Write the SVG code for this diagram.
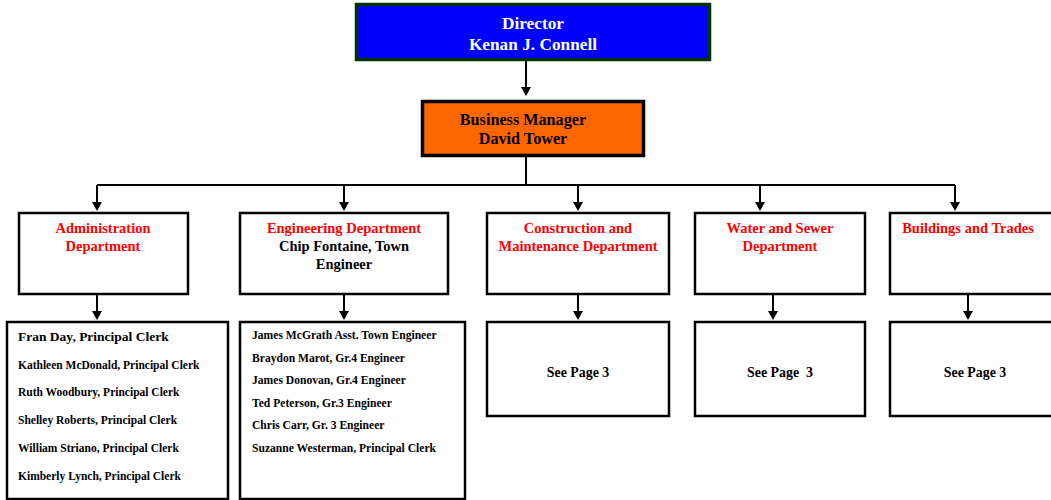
<svg xmlns="http://www.w3.org/2000/svg" width="1051" height="500" viewBox="0 0 1051 500">
<style>
text{font-family:"Liberation Serif","Times New Roman",serif;font-weight:bold;}
.box{fill:#fff;stroke:#000;stroke-width:2.5;}
.c{text-anchor:middle;}
.red{fill:#ff0000;font-size:14.5px;}
.blk{fill:#000;font-size:14.5px;}
.st{fill:#000;font-size:11.5px;}
.st2{fill:#000;font-size:11.6px;}
.sp{fill:#000;font-size:13.9px;}
.ln{fill:none;stroke:#000;stroke-width:2;}
</style>
<g id="connectors">
<path class="ln" d="M526,61 V95"/>
<path d="M521,87 L531,87 L526,96 Z"/>
<path class="ln" d="M526,157 V185 M97,185 H955 M97,185 V205 M344,185 V205 M578,185 V205 M760,185 V205 M955,185 V205"/>
<path d="M92,202 L102,202 L97,211 Z M339,202 L349,202 L344,211 Z M573,202 L583,202 L578,211 Z M755,202 L765,202 L760,211 Z M950,202 L960,202 L955,211 Z"/>
<path class="ln" d="M97,294 V313 M344,294 V313 M578,294 V313 M773,294 V313 M968,294 V313"/>
<path d="M92,311 L102,311 L97,320 Z M339,311 L349,311 L344,320 Z M573,311 L583,311 L578,320 Z M768,311 L778,311 L773,320 Z M963,311 L973,311 L968,320 Z"/>
</g>
<g id="director">
<rect x="356.5" y="4.5" width="353" height="55" fill="#0000ff" stroke="#003300" stroke-width="3.5"/>
<text class="c" x="533" y="29" fill="#fff" font-size="17.3">Director</text>
<text class="c" x="533" y="50" fill="#fff" font-size="17.3">Kenan J. Connell</text>
</g>
<g id="business-manager">
<rect x="422.5" y="101.5" width="221" height="54" fill="#ff6600" stroke="#000" stroke-width="3.5"/>
<text class="c" x="523" y="125" fill="#000" font-size="16.2">Business Manager</text>
<text class="c" x="523" y="144" fill="#000" font-size="16.2">David Tower</text>
</g>
<g id="admin-dept">
<rect class="box" x="19" y="213" width="169" height="81"/>
<text class="c red" x="103" y="233">Administration</text>
<text class="c red" x="103" y="251">Department</text>
</g>
<g id="eng-dept">
<rect class="box" x="240" y="213" width="208" height="81"/>
<text class="c red" x="344" y="233">Engineering Department</text>
<text class="c blk" x="344" y="251">Chip Fontaine, Town</text>
<text class="c blk" x="344" y="269">Engineer</text>
</g>
<g id="const-dept">
<rect class="box" x="487" y="213" width="182" height="81"/>
<text class="c red" x="578" y="233">Construction and</text>
<text class="c red" x="578" y="251">Maintenance Department</text>
</g>
<g id="water-dept">
<rect class="box" x="695" y="213" width="170" height="81"/>
<text class="c red" x="780" y="233">Water and Sewer</text>
<text class="c red" x="780" y="251">Department</text>
</g>
<g id="buildings-dept">
<rect class="box" x="890" y="213" width="170" height="81"/>
<text class="c red" x="968" y="233">Buildings and Trades</text>
</g>
<g id="admin-staff">
<rect class="box" x="7" y="322" width="221" height="177"/>
<text x="18" y="341" style="font-size:13.5px" fill="#000">Fran Day, Principal Clerk</text>
<text class="st" x="18" y="369">Kathleen McDonald, Principal Clerk</text>
<text class="st" x="18" y="396">Ruth Woodbury, Principal Clerk</text>
<text class="st" x="18" y="424">Shelley Roberts, Principal Clerk</text>
<text class="st" x="18" y="452">William Striano, Principal Clerk</text>
<text class="st" x="18" y="480">Kimberly Lynch, Principal Clerk</text>
</g>
<g id="eng-staff">
<rect class="box" x="240" y="322" width="225" height="177"/>
<text class="st2" x="252" y="339">James McGrath Asst. Town Engineer</text>
<text class="st2" x="252" y="362">Braydon Marot, Gr.4 Engineer</text>
<text class="st2" x="252" y="384">James Donovan, Gr.4 Engineer</text>
<text class="st2" x="252" y="407">Ted Peterson, Gr.3 Engineer</text>
<text class="st2" x="252" y="429">Chris Carr, Gr. 3 Engineer</text>
<text class="st2" x="252" y="452">Suzanne Westerman, Principal Clerk</text>
</g>
<g id="const-staff">
<rect class="box" x="487" y="322" width="182" height="94"/>
<text class="c sp" x="578" y="377">See Page 3</text>
</g>
<g id="water-staff">
<rect class="box" x="695" y="322" width="170" height="94"/>
<text class="c sp" x="780" y="377" xml:space="preserve">See Page  3</text>
</g>
<g id="buildings-staff">
<rect class="box" x="890" y="322" width="170" height="94"/>
<text class="c sp" x="975" y="377">See Page 3</text>
</g>
</svg>
